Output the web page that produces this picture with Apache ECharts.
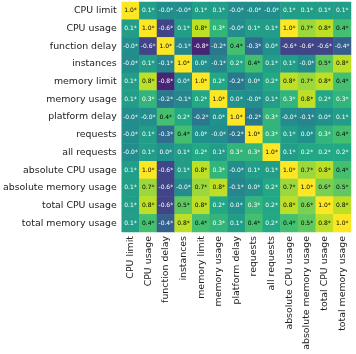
<!DOCTYPE html>
<html>
<head>
<meta charset="utf-8">
<script src="https://cdn.jsdelivr.net/npm/echarts@6/dist/echarts.min.js"></script>
<style>
  html, body { margin: 0; padding: 0; background: #fff; }
  #main { width: 356px; height: 354px; }
</style>
</head>
<body>
<div id="main"></div>
<script>
var labels = ['CPU limit', 'CPU usage', 'function delay', 'instances', 'memory limit',
  'memory usage', 'platform delay', 'requests', 'all requests', 'absolute CPU usage',
  'absolute memory usage', 'total CPU usage', 'total memory usage'];

// correlation rows, top to bottom (-0.03 shows as "-0.0")
var rowCpuLimit    = [1.0, 0.1, -0.03, -0.03, 0.1, 0.1, -0.03, -0.03, -0.03, 0.1, 0.1, 0.1, 0.1];
var rowCpuUsage    = [0.1, 1.0, -0.6, 0.1, 0.8, 0.3, -0.03, 0.1, 0.1, 1.0, 0.7, 0.8, 0.4];
var rowFuncDelay   = [-0.03, -0.6, 1.0, -0.1, -0.8, -0.2, 0.4, -0.3, 0.0, -0.6, -0.6, -0.6, -0.4];
var rowInstances   = [-0.03, 0.1, -0.1, 1.0, 0.0, -0.1, 0.2, 0.4, 0.1, 0.1, -0.03, 0.5, 0.8];
var rowMemLimit    = [0.1, 0.8, -0.8, 0.0, 1.0, 0.2, -0.2, 0.0, 0.2, 0.8, 0.7, 0.8, 0.4];
var rowMemUsage    = [0.1, 0.3, -0.2, -0.1, 0.2, 1.0, 0.0, -0.03, 0.1, 0.3, 0.8, 0.2, 0.3];
var rowPlatDelay   = [-0.03, -0.03, 0.4, 0.2, -0.2, 0.0, 1.0, -0.2, 0.3, -0.03, -0.1, 0.0, 0.1];
var rowRequests    = [-0.03, 0.1, -0.3, 0.4, 0.0, -0.03, -0.2, 1.0, 0.3, 0.1, 0.0, 0.3, 0.4];
var rowAllRequests = [-0.03, 0.1, 0.0, 0.1, 0.2, 0.1, 0.3, 0.3, 1.0, 0.1, 0.2, 0.2, 0.2];
var rowAbsCpu      = [0.1, 1.0, -0.6, 0.1, 0.8, 0.3, -0.03, 0.1, 0.1, 1.0, 0.7, 0.8, 0.4];
var rowAbsMem      = [0.1, 0.7, -0.6, -0.03, 0.7, 0.8, -0.1, 0.0, 0.2, 0.7, 1.0, 0.6, 0.5];
var rowTotalCpu    = [0.1, 0.8, -0.6, 0.5, 0.8, 0.2, 0.0, 0.3, 0.2, 0.8, 0.6, 1.0, 0.8];
var rowTotalMem    = [0.1, 0.4, -0.4, 0.8, 0.4, 0.3, 0.1, 0.4, 0.2, 0.4, 0.5, 0.8, 1.0];

var rows = [rowCpuLimit, rowCpuUsage, rowFuncDelay, rowInstances, rowMemLimit, rowMemUsage,
  rowPlatDelay, rowRequests, rowAllRequests, rowAbsCpu, rowAbsMem, rowTotalCpu, rowTotalMem];

var viridis = ['#440154', '#482475', '#414487', '#355f8d', '#2a788e', '#21918c',
  '#22a884', '#44bf70', '#7ad151', '#bddf26', '#fde725'];

var data = [];
for (var i = 0; i < rows.length; i++) {
  for (var j = 0; j < rows[i].length; j++) {
    var v = rows[i][j];
    data.push({
      value: [j, i, v],
      label: { color: v >= 0.35 ? '#000' : '#fff' }
    });
  }
}

var myChart = echarts.init(document.getElementById('main'));
var option = {
  animation: false,
  grid: { left: 121, top: 2, width: 230, height: 230 },
  xAxis: {
    type: 'category',
    data: labels,
    axisLine: { show: false },
    axisTick: { show: false },
    splitArea: { show: false },
    axisLabel: {
      rotate: 90, interval: 0, margin: 4,
      fontFamily: 'DejaVu Sans', fontSize: 9.4, color: '#222'
    }
  },
  yAxis: {
    type: 'category',
    data: labels,
    inverse: true,
    axisLine: { show: false },
    axisTick: { show: false },
    splitArea: { show: false },
    axisLabel: {
      interval: 0, margin: 5,
      fontFamily: 'DejaVu Sans', fontSize: 9.4, color: '#222'
    }
  },
  visualMap: {
    show: false,
    min: -1,
    max: 1,
    calculable: false,
    inRange: { color: viridis }
  },
  series: [{
    type: 'heatmap',
    data: data,
    label: {
      show: true,
      fontFamily: 'DejaVu Sans',
      fontSize: 6,
      formatter: function (p) { return p.value[2].toFixed(1) + '*'; }
    },
    itemStyle: { borderWidth: 0 }
  }]
};
option && myChart.setOption(option);
</script>
</body>
</html>
